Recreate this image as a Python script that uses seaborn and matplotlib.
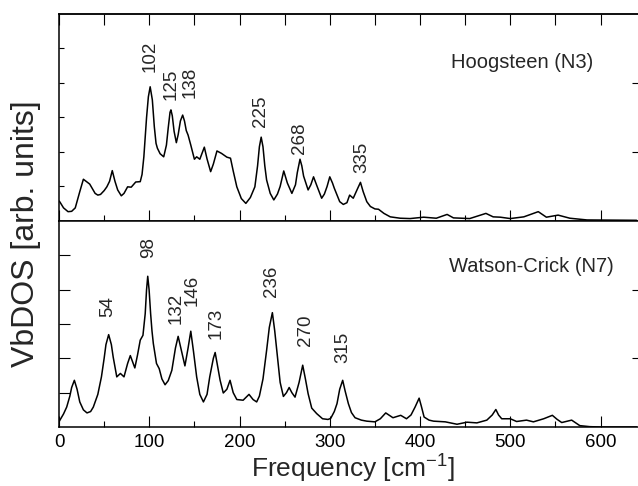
import pandas as pd
import seaborn as sns
import matplotlib.pyplot as plt
from matplotlib.ticker import MultipleLocator, FixedLocator

# Hoogsteen (N3) spectrum
hoog_freq = [0, 1, 5, 10, 14, 18, 23, 27, 30, 34, 40, 43, 46, 50, 53, 56, 59, 62, 65, 69, 72,
             76, 80, 85, 90, 92, 94, 97, 99, 101, 103.4, 105.6, 107.5, 109, 112, 116, 119, 121,
             123, 124, 125.5, 127.5, 130, 132, 134.5, 137, 139, 141, 143, 146, 150, 152.5, 156,
             161, 164, 168, 171, 175, 180, 186, 190, 193, 197, 202, 207, 212, 217, 220, 222,
             224, 226, 228, 230, 234, 238, 242, 245, 249, 253, 258, 262, 264, 267, 269, 271,
             276, 279, 282, 286, 291, 294, 297, 300, 303, 305, 311, 315, 319, 322, 326, 331,
             334, 337, 341, 345, 350, 354, 360, 367, 378, 389, 404, 418, 430, 437, 455, 473,
             481, 489, 500, 515, 531, 540, 553, 566, 585, 640]
hoog_vbdos = [0.58, 0.55, 0.38, 0.27, 0.28, 0.38, 0.85, 1.21, 1.15, 1.07, 0.80, 0.75, 0.77,
              0.88, 0.99, 1.15, 1.46, 1.15, 0.90, 0.73, 0.80, 0.99, 0.98, 1.13, 1.14, 1.35,
              1.86, 3.00, 3.60, 3.89, 3.51, 2.73, 2.25, 2.11, 1.95, 1.86, 2.20, 2.70, 3.15,
              3.22, 3.05, 2.60, 2.27, 2.50, 2.90, 3.07, 2.90, 2.62, 2.49, 2.20, 1.79, 1.86,
              1.79, 2.14, 1.80, 1.43, 1.65, 2.03, 1.96, 1.85, 1.82, 1.45, 0.99, 0.65, 0.51,
              0.68, 0.99, 1.60, 2.15, 2.43, 2.15, 1.60, 1.19, 0.80, 0.61, 0.78, 1.00, 1.45,
              1.10, 0.80, 1.05, 1.40, 1.79, 1.60, 1.30, 0.90, 1.05, 1.28, 1.00, 0.66, 0.78,
              1.00, 1.28, 1.10, 0.95, 0.56, 0.48, 0.53, 0.75, 0.66, 0.95, 1.12, 0.85, 0.56,
              0.42, 0.35, 0.34, 0.22, 0.12, 0.08, 0.07, 0.11, 0.08, 0.19, 0.09, 0.07, 0.22,
              0.12, 0.11, 0.07, 0.12, 0.27, 0.11, 0.17, 0.08, 0.03, 0.02]

# Watson-Crick (N7) spectrum
wc_freq = [0, 1, 5, 8.5, 12, 14, 17, 20, 23, 27, 31, 35, 38, 43, 47, 50, 52, 55, 58, 60, 64,
           68, 72, 76, 79, 84, 87, 90, 93, 95.5, 97, 98.3, 99.8, 101.5, 103, 104.5, 108, 111,
           114, 117.5, 121, 125, 129, 132, 135, 139.5, 143, 146, 149, 152.5, 156, 160, 164,
           167, 171, 173, 175.5, 178.5, 182, 186, 189.5, 193, 197, 204, 210.5, 215, 219, 222,
           226, 230, 233, 236.4, 239, 242, 245, 248.6, 252, 255, 258, 261.5, 266, 270, 273,
           276, 280, 285.5, 292, 298, 301, 305, 308, 311, 314.3, 317, 320.6, 324, 328, 335,
           341, 350, 356, 362, 370, 378.6, 385, 390, 394.5, 399, 401.5, 404.5, 410, 415, 428,
           441, 452, 463, 474, 480, 484, 487, 490.5, 500, 507, 518, 525.6, 537, 546.6, 552,
           557, 568, 577, 588, 600, 640]
wc_vbdos = [0.15, 0.20, 0.38, 0.58, 0.90, 1.15, 1.36, 1.10, 0.73, 0.50, 0.41, 0.45, 0.58, 0.95,
            1.46, 2.00, 2.40, 2.69, 2.40, 2.04, 1.46, 1.56, 1.46, 1.85, 2.08, 1.72, 2.10, 2.53,
            2.67, 3.30, 4.00, 4.39, 4.00, 3.30, 2.80, 2.43, 1.85, 1.70, 1.40, 1.23, 1.35, 1.65,
            2.30, 2.64, 2.30, 1.78, 2.30, 2.79, 2.20, 1.46, 0.95, 0.73, 0.95, 1.46, 2.00, 2.17,
            1.80, 1.36, 0.99, 1.10, 1.36, 1.00, 0.80, 0.78, 0.95, 0.80, 0.73, 0.90, 1.40, 2.23,
            2.90, 3.33, 2.80, 2.04, 1.30, 0.89, 1.00, 1.15, 1.00, 0.87, 1.30, 1.80, 1.40, 0.97,
            0.55, 0.39, 0.24, 0.22, 0.25, 0.45, 0.68, 1.10, 1.36, 1.05, 0.68, 0.42, 0.27, 0.20,
            0.17, 0.15, 0.24, 0.41, 0.27, 0.34, 0.24, 0.35, 0.58, 0.84, 0.60, 0.29, 0.20, 0.17,
            0.15, 0.08, 0.14, 0.12, 0.20, 0.35, 0.51, 0.35, 0.24, 0.24, 0.16, 0.20, 0.15, 0.24,
            0.34, 0.22, 0.13, 0.20, 0.04, 0.01, 0.00, 0.00]

# peak labels
hoog_labels = ["102", "125", "138", "225", "268", "335"]
hoog_label_x = [101, 124, 145.5, 223.5, 266.3, 335.7]
hoog_label_y = [4.33, 3.51, 3.56, 2.72, 1.94, 1.38]

wc_labels = ["54", "98", "132", "146", "173", "236", "270", "315"]
wc_label_x = [54.3, 99.7, 129.5, 147, 173.6, 235.6, 273.3, 314]
wc_label_y = [3.19, 4.93, 3.01, 3.52, 2.55, 3.79, 2.35, 1.85]

sns.set_style("white")
plt.rcParams['font.family'] = ['Liberation Sans', 'DejaVu Sans']
plt.rcParams['mathtext.fontset'] = 'custom'
plt.rcParams['mathtext.rm'] = 'Liberation Sans'

fig = plt.figure(figsize=(6.38, 4.86), dpi=100)
ax1 = fig.add_axes([0.0925, 0.5453, 0.9075, 0.4259])
ax2 = fig.add_axes([0.0925, 0.1214, 0.9075, 0.4239])

df_h = pd.DataFrame({"freq": hoog_freq, "vbdos": hoog_vbdos})
df_w = pd.DataFrame({"freq": wc_freq, "vbdos": wc_vbdos})
sns.lineplot(data=df_h, x="freq", y="vbdos", ax=ax1, color="black", lw=1.1)
sns.lineplot(data=df_w, x="freq", y="vbdos", ax=ax2, color="black", lw=1.1)

for ax, ylen in [(ax1, 3.6), (ax2, 7.9)]:
    ax.set_xlim(0, 641.5)
    ax.set_ylim(0, 6)
    ax.set_xlabel("")
    ax.set_ylabel("")
    for s in ax.spines.values():
        s.set_color("black")
        s.set_linewidth(1.1)
    ax.spines["right"].set_visible(False)
    ax.xaxis.set_major_locator(MultipleLocator(100))
    ax.xaxis.set_minor_locator(MultipleLocator(50))
    ax.tick_params(axis="x", which="major", direction="in", length=7.9, width=0.8,
                   top=False, bottom=True, colors="black", labelsize=13.5, pad=5)
    ax.tick_params(axis="x", which="minor", direction="in", length=4.5, width=0.8,
                   top=False, bottom=True, colors="black")
    ax.yaxis.set_major_locator(FixedLocator([1, 2, 3, 4, 5]))
    ax.yaxis.set_minor_locator(FixedLocator([2, 4]))
    ax.yaxis.remove_overlapping_locs = False
    ax.tick_params(axis="y", which="major", direction="in", length=ylen, width=0.8,
                   left=True, right=False, labelleft=False, colors="black")
    ax.tick_params(axis="y", which="minor", direction="in", length=4.5, width=0.8,
                   left=False, right=True, colors="black")

ax1.tick_params(axis="x", labelbottom=False)

# top spine of the upper panel carries equal ticks every 50
top = ax1.secondary_xaxis("top")
top.xaxis.set_major_locator(MultipleLocator(50))
top.tick_params(direction="in", length=7.9, width=0.8, labeltop=False, colors="black")
top.spines["top"].set_linewidth(1.1)

for s, x, y in zip(hoog_labels, hoog_label_x, hoog_label_y):
    ax1.text(x, y, s, rotation=90, ha="center", va="bottom", fontsize=13.5)
for s, x, y in zip(wc_labels, wc_label_x, wc_label_y):
    ax2.text(x, y, s, rotation=90, ha="center", va="bottom", fontsize=13.5)

ax1.text(0.922, 0.767, "Hoogsteen (N3)", transform=ax1.transAxes,
         ha="right", va="center", fontsize=14.5)
ax2.text(0.958, 0.777, "Watson-Crick (N7)", transform=ax2.transAxes,
         ha="right", va="center", fontsize=14.5)

fig.text(0.04, 0.52, "VbDOS [arb. units]", rotation=90, ha="center", va="center", fontsize=23)
fig.text(0.553, 0.038, "Frequency [cm$^{-1}$]", ha="center", va="center", fontsize=19)

fig.savefig("out.png", dpi=100)
